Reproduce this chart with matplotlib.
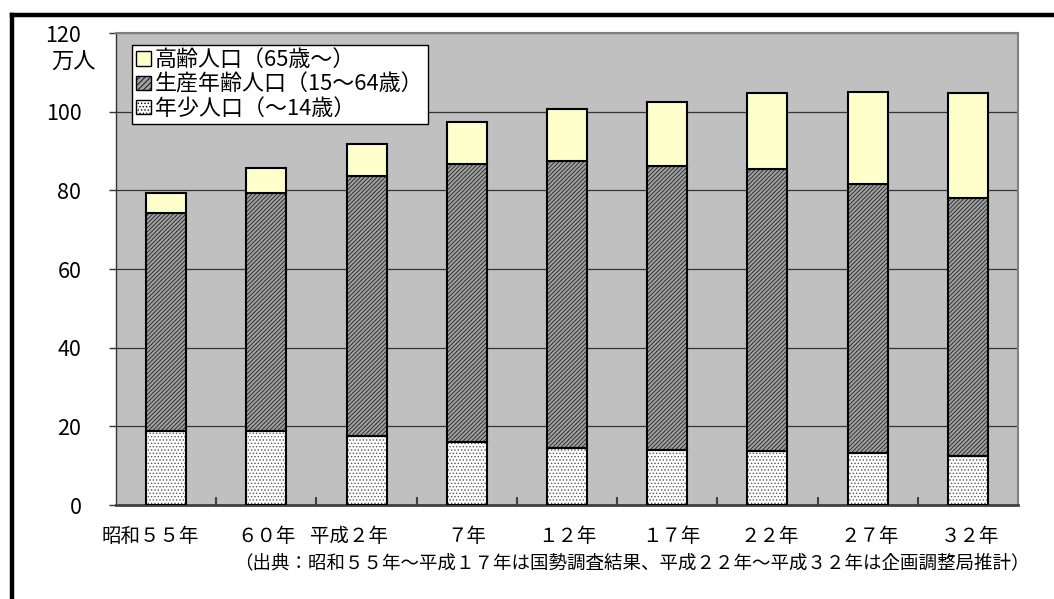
import matplotlib
matplotlib.use("Agg")
import matplotlib.pyplot as plt
import matplotlib.transforms as mtransforms
from matplotlib.patches import Patch
from matplotlib.lines import Line2D
import numpy as np

plt.rcParams['font.family'] = ['Noto Sans CJK JP', 'DejaVu Sans']
plt.rcParams['hatch.linewidth'] = 0.6

# ---- data (万人) ----
categories = ["昭和５５年", "６０年", "平成２年", "７年", "１２年", "１７年", "２２年", "２７年", "３２年"]
young = [18.8, 18.9, 17.6, 15.9, 14.4, 14.1, 13.7, 13.3, 12.5]          # 年少人口
working = [55.4, 60.4, 66.1, 70.7, 73.1, 72.2, 71.7, 68.2, 65.6]       # 生産年齢人口
elderly = [5.1, 6.4, 8.2, 10.8, 13.3, 16.2, 19.3, 23.5, 26.6]          # 高齢人口
yticks = [0, 20, 40, 60, 80, 100, 120]
legend_labels = ["高齢人口（65歳～）", "生産年齢人口（15～64歳）", "年少人口（～14歳）"]
unit_label = "万人"
source_text = "（出典：昭和５５年～平成１７年は国勢調査結果、平成２２年～平成３２年は企画調整局推計）"

W, H = 1054, 599
fig = plt.figure(figsize=(W / 100, H / 100), dpi=100)
fig.patch.set_facecolor('white')

L, R, T, B = 116, 1018, 33, 505
ax = fig.add_axes([L / W, 1 - B / H, (R - L) / W, (B - T) / H])
ax.set_facecolor('#c0c0c0')

x = np.arange(len(categories))
bw = 0.4
young_arr = np.array(young)
work_arr = np.array(working)
eld_arr = np.array(elderly)

# young: white with gray dots
ax.bar(x, young_arr, bw, color='white', edgecolor='#555555', hatch='.....', linewidth=0, zorder=3)
ax.bar(x, young_arr, bw, fill=False, edgecolor='black', linewidth=1.5, zorder=4)
# working: dense diagonal hatch
ax.bar(x, work_arr, bw, bottom=young_arr, color='#a0a0a0', edgecolor='#222222', hatch='////////',
       linewidth=0, zorder=3)
ax.bar(x, work_arr, bw, bottom=young_arr, fill=False, edgecolor='black', linewidth=1.5, zorder=4)
# elderly
ax.bar(x, eld_arr, bw, bottom=young_arr + work_arr, color='#ffffcc', edgecolor='black',
       linewidth=1.5, zorder=4)

ax.set_xlim(-0.5, len(categories) - 0.5)
ax.set_ylim(0, 120)
ax.set_yticks(yticks)
ax.set_yticklabels([str(v) for v in yticks], fontsize=15.5)
ax.tick_params(axis='y', direction='out', length=5, width=1, pad=20, color='#333333')

ax.yaxis.grid(True, color='#333333', linewidth=0.9, zorder=1)
ax.set_axisbelow(True)

ax.set_xticks(x)
ax.set_xticklabels(categories, fontsize=14)
ax.tick_params(axis='x', which='major', length=0, pad=15)
ax.set_xticks(np.arange(len(categories) - 1) + 0.5, minor=True)
ax.tick_params(axis='x', which='minor', direction='in', length=6, width=1.5, color='#404040')

# shift some labels as in the reference
offsets_px = [-16, 0, -18, 0, 0, 4, 2, 2, 2]
for lab, dx in zip(ax.get_xticklabels(), offsets_px):
    lab.set_transform(lab.get_transform() + mtransforms.ScaledTranslation(dx / 100, 0, fig.dpi_scale_trans))

for side in ['top', 'right']:
    ax.spines[side].set_color('#808080')
    ax.spines[side].set_linewidth(1.5)
ax.spines['left'].set_color('#333333')
ax.spines['left'].set_linewidth(1)
ax.spines['bottom'].set_color('#404040')
ax.spines['bottom'].set_linewidth(2)

# legend
handles = [
    Patch(facecolor='#ffffcc', edgecolor='black', linewidth=1),
    Patch(facecolor='#a0a0a0', edgecolor='black', hatch='//////', linewidth=1),
    Patch(facecolor='white', edgecolor='black', hatch='.....', linewidth=1),
]
leg = fig.legend(handles, legend_labels, loc='upper left',
                 bbox_to_anchor=(132 / W, 1 - 45 / H), fontsize=15.8,
                 frameon=True, fancybox=False, shadow=False, framealpha=1,
                 edgecolor='black', handlelength=0.65, handleheight=0.65,
                 handletextpad=0.2, labelspacing=0.1, borderpad=0.2, borderaxespad=0)
leg.get_frame().set_linewidth(1)
leg.set_zorder(10)

fig.text(73 / W, 1 - 62 / H, unit_label, fontsize=16, ha='center', va='center')
fig.text(1030 / W, 1 - 563 / H, source_text, fontsize=13.3, ha='right', va='center')

# outer black frame (left and top)
fig.add_artist(Line2D([12 / W, 12 / W], [0, 1 - 14.5 / H], color='black', linewidth=3.2,
                      transform=fig.transFigure, solid_capstyle='projecting'))
fig.add_artist(Line2D([12 / W, 1], [1 - 14.5 / H, 1 - 14.5 / H], color='black', linewidth=3.2,
                      transform=fig.transFigure, solid_capstyle='projecting'))

fig.savefig('out.png', dpi=100)
